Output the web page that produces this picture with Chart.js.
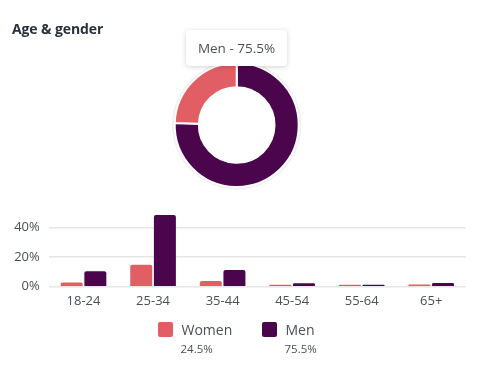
<!DOCTYPE html>
<html>
<head>
<meta charset="utf-8">
<script src="https://cdn.jsdelivr.net/npm/chart.js@4/dist/chart.umd.min.js"></script>
<style>
  html, body { margin: 0; padding: 0; background: #fff; }
  #wrap { position: relative; width: 480px; height: 375px; overflow: hidden; font-family: "Open Sans", "Noto Sans", sans-serif; }
  canvas { position: absolute; left: 0; top: 0; }
  #title { position: absolute; left: 12px; top: 19px; font-size: 14px; font-weight: 700; color: #2a303b; letter-spacing: -0.1px; }
  #tip { position: absolute; left: 186px; top: 30px; width: 101px; height: 36px; background: #fff; border-radius: 4px;
         box-shadow: 0 1px 5px rgba(0,0,0,0.18); color: #4a4f58; font-size: 13.5px; line-height: 36px; text-align: center; }
  .lg { position: absolute; top: 322px; }
  .sw { position: absolute; left: 0; top: 0; width: 15px; height: 15px; border-radius: 2px; }
  .nm { position: absolute; left: 24px; top: -2px; font-size: 14px; color: #4a4f58; white-space: nowrap; }
  .pc { position: absolute; left: 23px; top: 19px; font-size: 11.5px; color: #4a4f58; white-space: nowrap; }
</style>
</head>
<body>
<div id="wrap">
  <canvas id="donut" width="480" height="375"></canvas>
  <canvas id="bars" width="480" height="375"></canvas>
  <div id="title">Age &amp; gender</div>
  <div id="tip"></div>
  <div id="legend"></div>
</div>
<script>
// ---- data ----
const ageGroups = ['18-24', '25-34', '35-44', '45-54', '55-64', '65+'];
const womenPct = [2.8, 14.8, 3.8, 1.1, 0.5, 1.5];
const menPct = [10.4, 48.3, 11.2, 2.3, 0.8, 2.5];
const genderLabels = ['Men', 'Women'];
const genderTotals = [75.5, 24.5];
const yTickStep = 20;
const yMax = 50;

const COLOR_WOMEN = '#e15f64';
const COLOR_MEN = '#4b054d';

// halo ring behind doughnut
const haloPlugin = {
  id: 'halo',
  beforeDatasetsDraw(chart) {
    const arc = chart.getDatasetMeta(0).data[0];
    if (!arc) return;
    const ctx = chart.ctx;
    ctx.save();
    ctx.beginPath();
    ctx.arc(arc.x, arc.y, arc.outerRadius + 2.5, 0, Math.PI * 2);
    ctx.arc(arc.x, arc.y, arc.innerRadius - 1, 0, Math.PI * 2, true);
    ctx.fillStyle = '#efefef';
    ctx.fill();
    ctx.restore();
  }
};

new Chart(document.getElementById('donut'), {
  type: 'doughnut',
  data: {
    labels: genderLabels,
    datasets: [{
      data: genderTotals,
      backgroundColor: [COLOR_MEN, COLOR_WOMEN],
      borderColor: '#ffffff',
      borderWidth: 2,
      hoverOffset: 0,
      offset: 0
    }]
  },
  options: {
    responsive: false,
    animation: false,
    cutout: '61%',
    layout: { padding: { left: 173.7, right: 180.3, top: 62, bottom: 187 } },
    plugins: { legend: { display: false }, tooltip: { enabled: false } }
  },
  plugins: [haloPlugin]
});

new Chart(document.getElementById('bars'), {
  type: 'bar',
  data: {
    labels: ageGroups,
    datasets: [
      { label: genderLabels[1], data: womenPct, backgroundColor: COLOR_WOMEN, borderRadius: 2, borderSkipped: 'bottom',
        categoryPercentage: 0.68, barPercentage: 0.93, minBarLength: 2 },
      { label: genderLabels[0], data: menPct, backgroundColor: COLOR_MEN, borderRadius: 2, borderSkipped: 'bottom',
        categoryPercentage: 0.68, barPercentage: 0.93, minBarLength: 2 }
    ]
  },
  options: {
    responsive: false,
    animation: false,
    layout: { padding: { left: 0, right: 14, top: 212.4, bottom: 0 } },
    plugins: { legend: { display: false }, tooltip: { enabled: false } },
    scales: {
      x: {
        grid: { display: false, drawTicks: false },
        border: { display: false },
        ticks: { padding: 7, color: '#4a4f58', font: { family: '"Open Sans", "Noto Sans", sans-serif', size: 13 } },
        afterFit(s) { s.height = 88.3; }
      },
      y: {
        min: 0,
        max: yMax,
        afterBuildTicks(axis) { axis.ticks = axis.ticks.filter(t => t.value % yTickStep === 0); },
        grid: { color: '#e6e6e6', lineWidth: 1.5, drawTicks: false },
        border: { display: false },
        ticks: { stepSize: 10, padding: 9, color: '#4a4f58', font: { family: '"Open Sans", "Noto Sans", sans-serif', size: 13 },
                 callback: v => v + '%' },
        afterFit(s) { s.width = 48.75; }
      }
    }
  }
});

// tooltip text
document.getElementById('tip').textContent = genderLabels[0] + ' - ' + genderTotals[0] + '%';

// legend
const legend = document.getElementById('legend');
const legendItems = [
  { name: genderLabels[1], pct: genderTotals[1], color: COLOR_WOMEN, left: 157.5 },
  { name: genderLabels[0], pct: genderTotals[0], color: COLOR_MEN, left: 261.5 }
];
legendItems.forEach(it => {
  const d = document.createElement('div');
  d.className = 'lg';
  d.style.left = it.left + 'px';
  d.innerHTML = '<div class="sw" style="background:' + it.color + '"></div>' +
    '<div class="nm">' + it.name + '</div><div class="pc">' + it.pct + '%</div>';
  legend.appendChild(d);
});
</script>
</body>
</html>
